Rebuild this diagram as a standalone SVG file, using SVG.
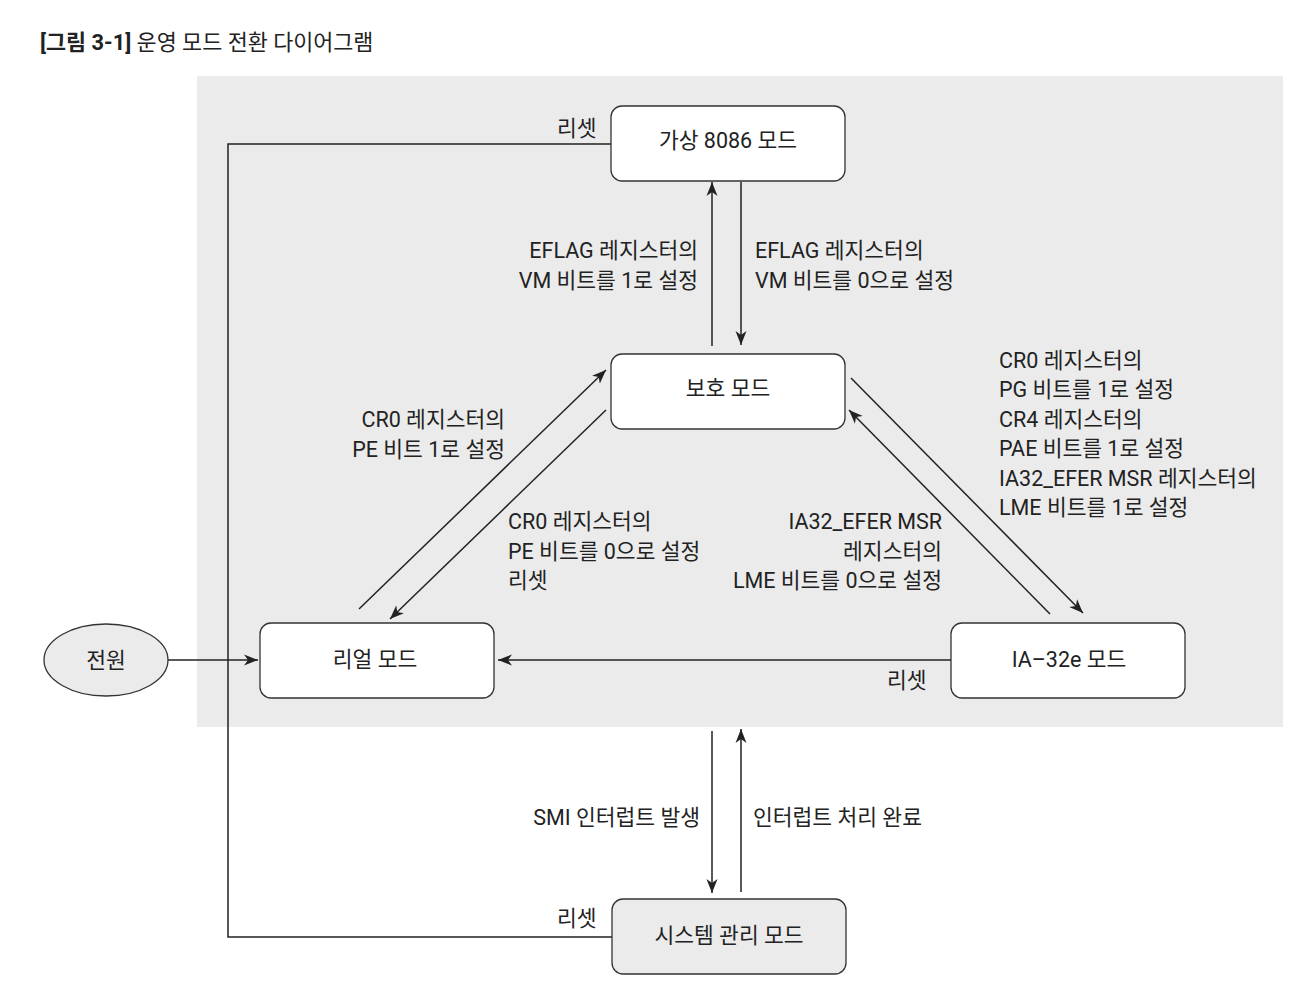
<svg xmlns="http://www.w3.org/2000/svg" width="1306" height="1004" viewBox="0 0 1306 1004">
<style>
text{font-family:Roboto,"Noto Sans CJK KR",sans-serif;font-size:21.5px;fill:#222}
.title{font-size:21.8px}
.b{font-weight:700}
.node{fill:#fff;stroke:#333;stroke-width:1.3}
.gnode{fill:#ebebeb;stroke:#333;stroke-width:1.3}
.c{fill:none;stroke:#222;stroke-width:1.5}
.e{text-anchor:end}
.m{text-anchor:middle}
</style>
<defs>
<marker id="ah" markerUnits="userSpaceOnUse" markerWidth="16" markerHeight="12" refX="14" refY="6" orient="auto">
<path d="M0,0.5 L14,6 L0,11.5 L4,6 z" fill="#222"/>
</marker>
</defs>
<rect width="1306" height="1004" fill="#fff"/>
<text class="title" x="40" y="50"><tspan class="b">[그림 3-1]</tspan> 운영 모드 전환 다이어그램</text>
<rect x="197" y="76" width="1086" height="651" fill="#ebebeb"/>

<g id="connectors">
<polyline class="c" points="611,144 228,144 228,937 612,937"/>
<line class="c" x1="712" y1="346" x2="712" y2="182" marker-end="url(#ah)"/>
<line class="c" x1="741" y1="182" x2="741" y2="345" marker-end="url(#ah)"/>
<line class="c" x1="359" y1="609" x2="606" y2="370" marker-end="url(#ah)"/>
<line class="c" x1="606" y1="410" x2="390" y2="619" marker-end="url(#ah)"/>
<line class="c" x1="851" y1="378" x2="1083" y2="613" marker-end="url(#ah)"/>
<line class="c" x1="1050" y1="614" x2="849" y2="410" marker-end="url(#ah)"/>
<line class="c" x1="951" y1="660" x2="498" y2="660" marker-end="url(#ah)"/>
<line class="c" x1="168" y1="660" x2="258" y2="660" marker-end="url(#ah)"/>
<line class="c" x1="712" y1="731" x2="712" y2="893" marker-end="url(#ah)"/>
<line class="c" x1="741" y1="892" x2="741" y2="729" marker-end="url(#ah)"/>
</g>

<g id="labels">
<text x="557" y="136">리셋</text>
<text x="557" y="926">리셋</text>
<text class="e" x="698" y="258">EFLAG 레지스터의</text>
<text class="e" x="698" y="288">VM 비트를 1로 설정</text>
<text x="755" y="258">EFLAG 레지스터의</text>
<text x="755" y="288">VM 비트를 0으로 설정</text>
<text class="e" x="505" y="427">CR0 레지스터의</text>
<text class="e" x="505" y="457">PE 비트 1로 설정</text>
<text x="508" y="529">CR0 레지스터의</text>
<text x="508" y="559">PE 비트를 0으로 설정</text>
<text x="508" y="588">리셋</text>
<text class="e" x="942" y="529">IA32_EFER MSR</text>
<text class="e" x="942" y="559">레지스터의</text>
<text class="e" x="942" y="588">LME 비트를 0으로 설정</text>
<text x="999" y="368">CR0 레지스터의</text>
<text x="999" y="397">PG 비트를 1로 설정</text>
<text x="999" y="427">CR4 레지스터의</text>
<text x="999" y="456">PAE 비트를 1로 설정</text>
<text x="999" y="486">IA32_EFER MSR 레지스터의</text>
<text x="999" y="515">LME 비트를 1로 설정</text>
<text x="887" y="688">리셋</text>
<text class="e" x="700" y="825">SMI 인터럽트 발생</text>
<text x="753" y="825">인터럽트 처리 완료</text>
</g>

<g id="node-v8086">
<rect class="node" x="611" y="106" width="234" height="75" rx="11"/>
<text class="m" x="728" y="148">가상 8086 모드</text>
</g>
<g id="node-protected">
<rect class="node" x="611" y="354" width="234" height="75" rx="11"/>
<text class="m" x="728" y="396">보호 모드</text>
</g>
<g id="node-real">
<rect class="node" x="260" y="623" width="234" height="75" rx="11"/>
<text class="m" x="375" y="667">리얼 모드</text>
</g>
<g id="node-ia32e">
<rect class="node" x="951" y="623" width="234" height="75" rx="11"/>
<text class="m" x="1069" y="667">IA–32e 모드</text>
</g>
<g id="node-smm">
<rect class="gnode" x="612" y="899" width="234" height="75" rx="11"/>
<text class="m" x="729" y="943">시스템 관리 모드</text>
</g>
<g id="node-power">
<ellipse class="gnode" cx="106" cy="660" rx="62" ry="36"/>
<text class="m" x="106" y="668">전원</text>
</g>
</svg>
